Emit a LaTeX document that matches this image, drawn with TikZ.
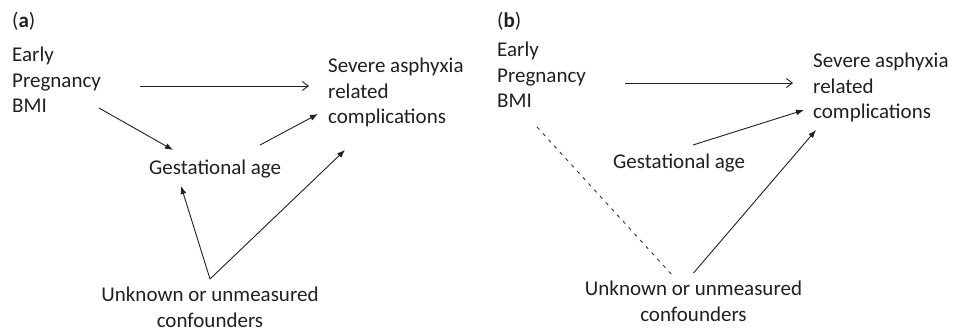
\documentclass[tikz,border=0pt]{standalone}
\usepackage{fontspec}
\setmainfont{Carlito}
\usetikzlibrary{arrows.meta}
\definecolor{ink}{rgb}{0.13, 0.12, 0.12}
\tikzset{lbl/.style = {inner sep = 0, font = \fontsize{21}{25.5}\selectfont, text = ink, align = left}}
\tikzset{arr/.style = {ink, line width = 0.9pt, -{Latex[length = 8pt, width = 6pt]}}}
\tikzset{barb/.style = {ink, line width = 0.9pt, -{Straight Barb[length = 6pt, width = 9pt]}}}
\tikzset{dash line/.style = {ink, line width = 0.8pt, dash pattern = on 3.5pt off 5pt}}
\begin{document}
\begin{tikzpicture}[x = 1pt, y = 1pt]

      \useasboundingbox (0, 0) rectangle (953, 335);

      % (a)
      \node [lbl, anchor = base west] (labA) at (12, 307) {(\textbf{a})};
      \node [lbl, anchor = base west] (bmiA) at (12, 222) {Early\\Pregnancy\\BMI};
      \node [lbl, anchor = base west] (sevA) at (328, 211) {Severe asphyxia\\related\\complications};
      \node [lbl, anchor = base west] (gestA) at (149, 160) {Gestational age};
      \node [lbl, anchor = base, align = center] (unkA) at (210, 8) {Unknown or unmeasured\\confounders};

      \draw [barb] ([xshift = 128pt, yshift = 27pt] bmiA.base west) -- ([xshift = -19pt, yshift = 38pt] sevA.base west);
      \draw [arr] ([xshift = 87pt, yshift = 5pt] bmiA.base west) -- ([xshift = 24pt, yshift = 25pt] gestA.base west);
      \draw [arr] ([xshift = 111pt, yshift = 30pt] gestA.base west) -- ([xshift = -10pt, yshift = 10pt] sevA.base west);
      \draw [arr] ([yshift = 48pt] unkA.base) -- ([xshift = 32pt, yshift = -11pt] gestA.base west);
      \draw [arr] ([yshift = 48pt] unkA.base) -- ([xshift = 17pt, yshift = -26pt] sevA.base west);

      % (b)
      \node [lbl, anchor = base west] (labB) at (497, 307) {(\textbf{b})};
      \node [lbl, anchor = base west] (bmiB) at (497, 227) {Early\\Pregnancy\\BMI};
      \node [lbl, anchor = base west] (sevB) at (813, 216) {Severe asphyxia\\related\\complications};
      \node [lbl, anchor = base west] (gestB) at (613, 166) {Gestational age};
      \node [lbl, anchor = base, align = center] (unkB) at (693.5, 14) {Unknown or unmeasured\\confounders};

      \draw [barb] ([xshift = 128pt, yshift = 25pt] bmiB.base west) -- ([xshift = -20pt, yshift = 36pt] sevB.base west);
      \draw [arr] ([xshift = 80pt, yshift = 24pt] gestB.base west) -- ([xshift = -9pt, yshift = 9pt] sevB.base west);
      \draw [dash line] ([xshift = 40pt, yshift = -19pt] bmiB.base west) -- ([xshift = -20.5pt, yshift = 45pt] unkB.base);
      \draw [arr] ([yshift = 48pt] unkB.base) -- ([xshift = 3pt, yshift = -11pt] sevB.base west);

    \end{tikzpicture}
\end{document}
